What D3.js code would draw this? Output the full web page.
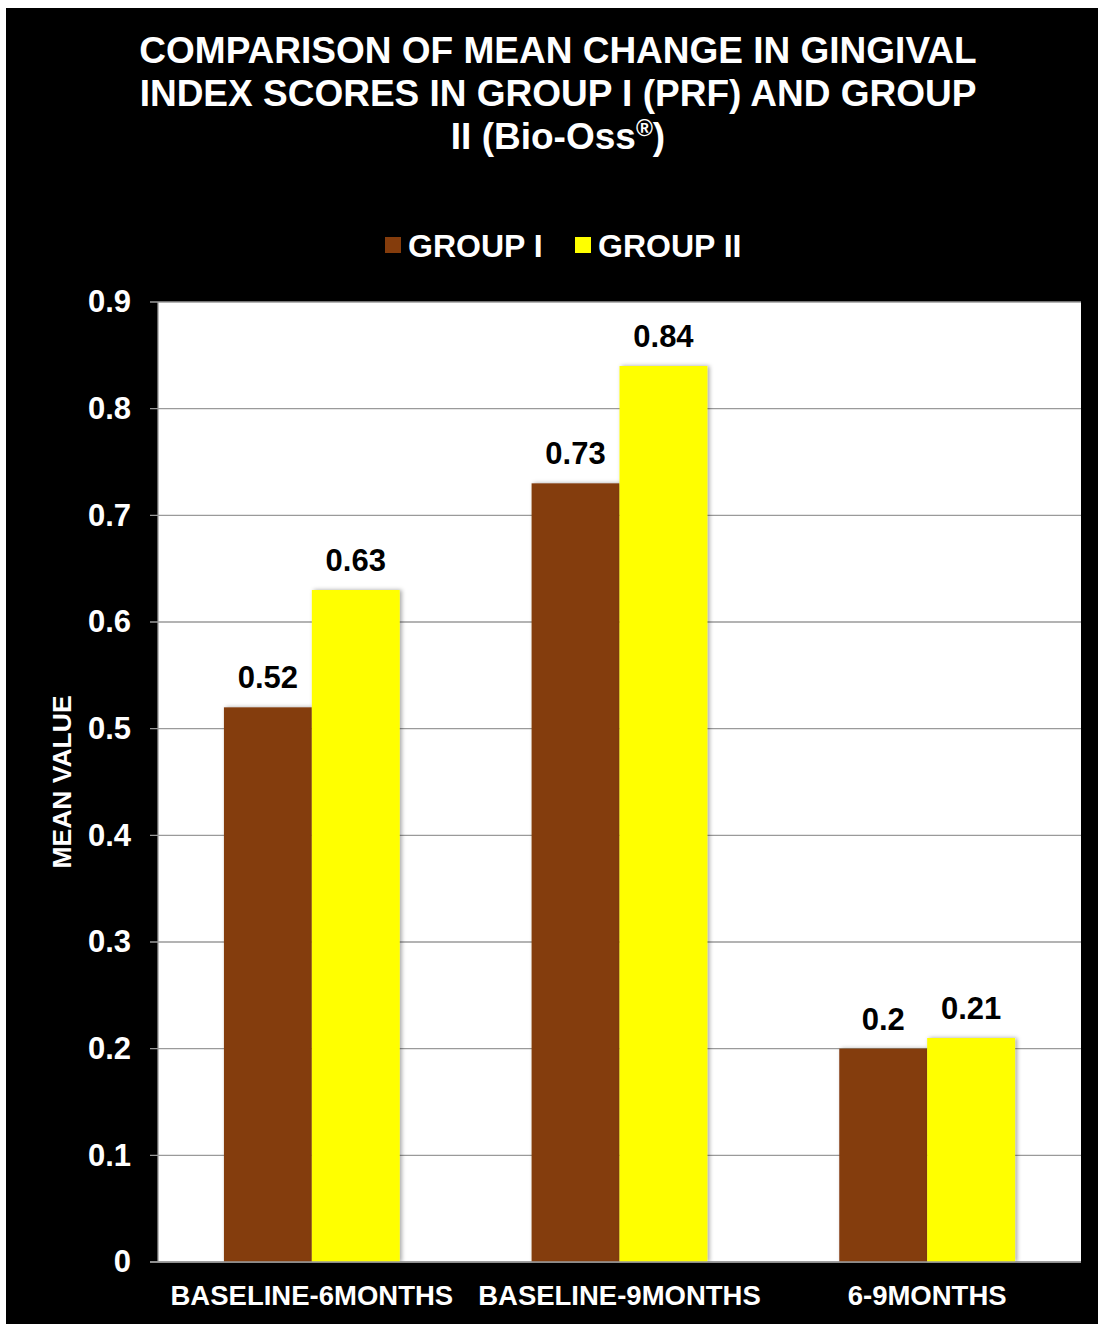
<!DOCTYPE html>
<html>
<head>
<meta charset="utf-8">
<script src="https://cdn.jsdelivr.net/npm/d3@7"></script>
<style>
  html, body { margin: 0; padding: 0; background: #ffffff; }
  svg { display: block; }
  text { font-family: "Liberation Sans", Arial, sans-serif; font-weight: bold; }
</style>
</head>
<body>
<svg id="chart" width="1098" height="1324"></svg>
<script>
// Mean change in gingival index scores
const categories = ["BASELINE-6MONTHS", "BASELINE-9MONTHS", "6-9MONTHS"];
const seriesNames = ["GROUP I", "GROUP II"];
const groupI = [0.52, 0.73, 0.2];
const groupII = [0.63, 0.84, 0.21];
const yTicks = [0, 0.1, 0.2, 0.3, 0.4, 0.5, 0.6, 0.7, 0.8, 0.9];
const colors = ["#843C0C", "#FFFF00"];

const svg = d3.select("#chart");

// dark backdrop (a thin white margin stays at the top and left)
svg.append("rect").attr("x", 6).attr("y", 8).attr("width", 1092).attr("height", 1316).attr("fill", "#000");

const plot = { left: 158, right: 1081, top: 302, bottom: 1262 };

const x0 = d3.scaleBand().domain(categories)
  .range([plot.left, plot.right]).paddingInner(0.4286).paddingOuter(0.2143);
const x1 = d3.scaleBand().domain(seriesNames).range([0, x0.bandwidth()]);
const y = d3.scaleLinear().domain([0, 0.9]).range([plot.bottom, plot.top]);

// white plot area
svg.append("rect").attr("x", plot.left).attr("y", plot.top)
  .attr("width", plot.right - plot.left).attr("height", plot.bottom - plot.top).attr("fill", "#fff");

// gridlines
svg.append("g").selectAll("line").data(yTicks).join("line")
  .attr("x1", plot.left - 8).attr("x2", plot.right)
  .attr("y1", d => y(d)).attr("y2", d => y(d))
  .attr("stroke", "#9a9a9a").attr("stroke-width", 1.3);

// y axis labels
const yAxis = d3.axisLeft(y).tickValues(yTicks).tickSize(0).tickPadding(27).tickFormat(d => d3.format("")(d));
svg.append("g").attr("transform", `translate(${plot.left},0)`).call(yAxis)
  .call(g => g.select(".domain").remove())
  .selectAll("text").attr("fill", "#fff").attr("font-size", 31).attr("font-family", "Liberation Sans, Arial, sans-serif").attr("font-weight", "bold");

// left axis line
svg.append("line").attr("x1", plot.left).attr("x2", plot.left).attr("y1", plot.top).attr("y2", plot.bottom)
  .attr("stroke", "#9a9a9a").attr("stroke-width", 1.3);

// subtle bar shadow
const defs = svg.append("defs");
const f = defs.append("filter").attr("id", "shadow").attr("x", "-10%").attr("y", "-10%").attr("width", "130%").attr("height", "120%");
f.append("feDropShadow").attr("dx", 2).attr("dy", 0).attr("stdDeviation", 2).attr("flood-color", "#000").attr("flood-opacity", 0.35);

const rows = categories.map((c, i) => ({ cat: c, vals: [groupI[i], groupII[i]] }));

const groups = svg.append("g").selectAll("g").data(rows).join("g")
  .attr("transform", d => `translate(${x0(d.cat)},0)`);

groups.selectAll("rect").data(d => d.vals.map((v, j) => ({ v, s: seriesNames[j], j })))
  .join("rect")
  .attr("x", d => x1(d.s)).attr("width", x1.bandwidth())
  .attr("y", d => y(d.v)).attr("height", d => y(0) - y(d.v))
  .attr("fill", d => colors[d.j]).attr("filter", "url(#shadow)");

groups.selectAll("text.val").data(d => d.vals.map((v, j) => ({ v, s: seriesNames[j], j })))
  .join("text").attr("class", "val")
  .attr("x", d => x1(d.s) + x1.bandwidth() / 2).attr("y", d => y(d.v) - 19)
  .attr("text-anchor", "middle").attr("font-size", 31).attr("fill", "#000")
  .text(d => d3.format("")(d.v));

// baseline
svg.append("line").attr("x1", plot.left - 8).attr("x2", plot.right).attr("y1", plot.bottom).attr("y2", plot.bottom)
  .attr("stroke", "#9a9a9a").attr("stroke-width", 1.5);

// category labels
svg.append("g").selectAll("text").data(categories).join("text")
  .attr("x", d => x0(d) + x0.bandwidth() / 2).attr("y", 1305)
  .attr("text-anchor", "middle").attr("font-size", 27.5).attr("fill", "#fff").text(d => d);

// y axis title
svg.append("text").attr("transform", "translate(71,782) rotate(-90)")
  .attr("text-anchor", "middle").attr("font-size", 26.5).attr("fill", "#fff").text("MEAN VALUE");

// title
const title = svg.append("text").attr("text-anchor", "middle").attr("font-size", 37).attr("fill", "#fff");
title.append("tspan").attr("x", 558).attr("y", 63).text("COMPARISON OF MEAN CHANGE IN GINGIVAL");
title.append("tspan").attr("x", 558).attr("y", 106).text("INDEX SCORES IN GROUP I (PRF) AND GROUP");
const l3 = title.append("tspan").attr("x", 558).attr("y", 149);
l3.append("tspan").text("II (Bio-Oss");
l3.append("tspan").attr("font-size", 23).attr("dy", -13).text("®");
l3.append("tspan").attr("dy", 13).text(")");

// legend
const legendItems = [
  { name: seriesNames[0], color: colors[0], sx: 385, tx: 408 },
  { name: seriesNames[1], color: colors[1], sx: 575, tx: 598 }
];
const lg = svg.append("g");
lg.selectAll("rect").data(legendItems).join("rect")
  .attr("x", d => d.sx).attr("y", 237).attr("width", 16).attr("height", 16).attr("fill", d => d.color);
lg.selectAll("text").data(legendItems).join("text")
  .attr("x", d => d.tx).attr("y", 257).attr("font-size", 32).attr("fill", "#fff").text(d => d.name);
</script>
</body>
</html>
